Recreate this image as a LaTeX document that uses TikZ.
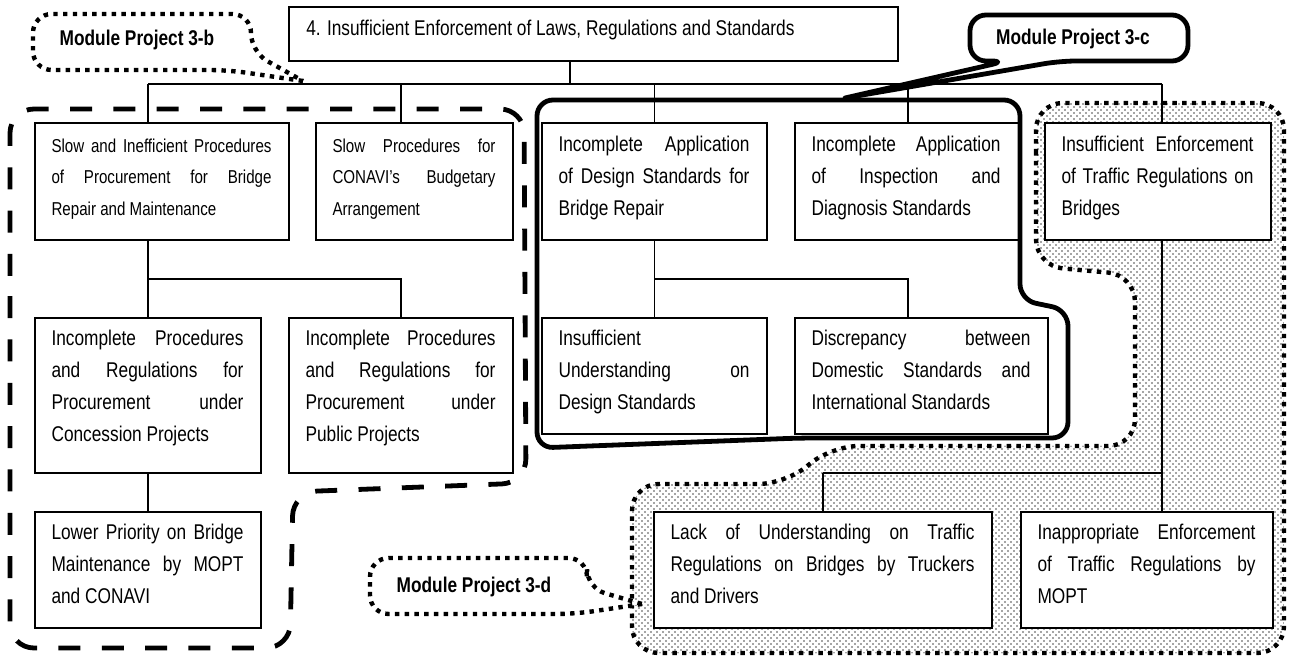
\documentclass[tikz,border=0pt]{standalone}
\usepackage{fontspec}
\setmainfont{Liberation Sans}[FakeStretch=0.81]
\usetikzlibrary{patterns}
% fine stipple used for the shaded module area
\pgfdeclarepatternformonly{stipple}{\pgfqpoint{-1pt}{-1pt}}{\pgfqpoint{3.5pt}{3.5pt}}{\pgfqpoint{4.5pt}{4.5pt}}{%
  \pgfpathcircle{\pgfqpoint{0pt}{0pt}}{0.65pt}%
  \pgfpathcircle{\pgfqpoint{2.25pt}{2.25pt}}{0.65pt}%
  \pgfusepath{fill}}
\hbadness=10000

\tikzset{
  box/.style={draw=black, line width=1.1pt, fill=white, inner sep=0pt},
  pbox/.style args={#1/#2}{minimum width=#1*0.75pt, minimum height=#2*0.75pt},
  wire/.style={draw=black, line width=1pt},
  txt/.style={anchor=north west, inner sep=0pt, align=justify,
    font=\fontsize{16pt}{24pt}\selectfont},
  smalltxt/.style={font=\fontsize{14pt}{23.7pt}\selectfont},
  head/.style={anchor=base west, inner sep=0pt, font=\fontsize{16pt}{19pt}\selectfont},
  lbl/.style={anchor=base, inner sep=0pt, font=\bfseries\fontsize{16pt}{19pt}\selectfont},
  dotline/.style={line width=3.3pt, dash pattern=on 3.3pt off 4pt, line cap=butt},
  dashline/.style={line width=3.6pt, dash pattern=on 16.5pt off 16pt, line cap=butt},
  solidline/.style={line width=3.6pt, line join=round},
}
% strut fixing the height of the first line of each box text
\newcommand{\fl}{\rule{0pt}{12.5pt}}

\begin{document}
\begin{tikzpicture}[x=0.75pt,y=-0.75pt]
\useasboundingbox (0,0) rectangle (1290,659);
\fill[white] (0,0) rectangle (1290,659);

% shaded area of Module Project 3-d
\draw[dotline, pattern=stipple, pattern color=black!70, rounded corners=20pt]
  (1036,180) -- (1036,103) -- (1284,103) -- (1284,653) -- (632,653) -- (632,484)
  -- (785,484) -- (832,446) -- (1135,446) -- (1135,275) -- (1036,266) -- cycle;

% boxes
\node[box, pbox=609/54]  (T)  at (593.5,34) {};
\node[box, pbox=254/117] (b1) at (162,181.5) {};
\node[box, pbox=197/117] (b2) at (414.5,181.5) {};
\node[box, pbox=225/117] (b3) at (654.5,181.5) {};
\node[box, pbox=224/117] (b4) at (907,181.5) {};
\node[box, pbox=226/117] (b5) at (1158,181.5) {};
\node[box, pbox=226/155] (c1) at (148,395.5) {};
\node[box, pbox=224/155] (c2) at (401,395.5) {};
\node[box, pbox=225/116] (c3) at (654.5,376) {};
\node[box, pbox=253/116] (c4) at (921.5,376) {};
\node[box, pbox=226/116] (d1) at (148,570) {};
\node[box, pbox=338/116] (d2) at (823,570) {};
\node[box, pbox=252/116] (d3) at (1147,570) {};

% junction points of the tree
\coordinate (j0) at (570,84);
\coordinate (j1) at (148,84);
\coordinate (j2) at (401,84);
\coordinate (j3) at (654.5,84);
\coordinate (j4) at (908,84);
\coordinate (j5) at (1162,84);
\coordinate (k1) at (148,279);
\coordinate (k2) at (823,473);

% connectors
\draw[wire] (T.south -| j0) -- (j0);
\draw[wire] (j1) -- (j5);
\foreach \j/\b in {j1/b1, j2/b2, j3/b3, j4/b4, j5/b5}
  \draw[wire] (\j) -- (\j |- \b.north);
\draw[wire] (c1.north |- b1.south) -- (c1.north);
\draw[wire] (c1.north |- k1) -- (c2.north |- k1) -- (c2.north);
\draw[wire] (b3.south) -- (c3.north);
\draw[wire] (b3.south |- k1) -- (j4 |- k1) -- (j4 |- c4.north);
\draw[wire] (c1.south) -- (d1.north);
\draw[wire] (j5 |- b5.south) -- (j5 |- d3.north);
\draw[wire] (k2) -- (j5 |- k2);
\draw[wire] (k2) -- (d2.north);

% texts
\node[head] (Tt) at (306,36) {4. Insufficient Enforcement of Laws, Regulations and Standards};
\node[txt, smalltxt, text width=165pt] (b1t) at ([shift={(17,13)}]b1.north west)
  {\fl Slow and Inefficient Procedures\linebreak of Procurement for Bridge\linebreak Repair and Maintenance};
\node[txt, smalltxt, text width=122.25pt] (b2t) at ([shift={(17,13)}]b2.north west)
  {\fl Slow Procedures for\linebreak CONAVI’s Budgetary\linebreak Arrangement};
\node[txt, text width=143.25pt] (b3t) at ([shift={(17,12)}]b3.north west)
  {\fl Incomplete Application\linebreak of Design Standards for\linebreak Bridge Repair};
\node[txt, text width=141.75pt] (b4t) at ([shift={(17,12)}]b4.north west)
  {\fl Incomplete Application\linebreak of Inspection and\linebreak Diagnosis Standards};
\node[txt, text width=144pt] (b5t) at ([shift={(17,12)}]b5.north west)
  {\fl Insufficient Enforcement\linebreak of Traffic Regulations on\linebreak Bridges};
\node[txt, text width=144pt] (c1t) at ([shift={(17,11)}]c1.north west)
  {\fl Incomplete Procedures\linebreak and Regulations for\linebreak Procurement under\linebreak Concession Projects};
\node[txt, text width=142.5pt] (c2t) at ([shift={(17,11)}]c2.north west)
  {\fl Incomplete Procedures\linebreak and Regulations for\linebreak Procurement under\linebreak Public Projects};
\node[txt, text width=143.25pt] (c3t) at ([shift={(17,11)}]c3.north west)
  {\fl Insufficient\linebreak Understanding on\linebreak Design Standards};
\node[txt, text width=164.25pt] (c4t) at ([shift={(17,11)}]c4.north west)
  {\fl Discrepancy between\linebreak Domestic Standards and\linebreak International Standards};
\node[txt, text width=144pt] (d1t) at ([shift={(17,11)}]d1.north west)
  {\fl Lower Priority on Bridge\linebreak Maintenance by MOPT\linebreak and CONAVI};
\node[txt, text width=228pt] (d2t) at ([shift={(17,11)}]d2.north west)
  {\fl Lack of Understanding on Traffic\linebreak Regulations on Bridges by Truckers\linebreak and Drivers};
\node[txt, text width=163.5pt] (d3t) at ([shift={(17,11)}]d3.north west)
  {\fl Inappropriate Enforcement\linebreak of Traffic Regulations by\linebreak MOPT};

% Module Project 3-b outline
\draw[dashline, rounded corners=18pt]
  (10,300) -- (10,109) -- (524,109) -- (526,483) -- (293,492) -- (290,648) -- (10,648) -- cycle;

% Module Project 3-c outline
\draw[solidline, rounded corners=12pt]
  (537,250) -- (537,100) -- (1020,100) -- (1020,300) -- (1068,310) -- (1068,438)
  -- (800,438) -- (537,448) -- cycle;

% callouts
\draw[dotline, fill=white] (303,81) [rounded corners=14pt] -- (228,70) -- (33,70) -- (33,14)
  -- (251,14) -- (251,52) [sharp corners] -- cycle;
\node[lbl] (m3b) at (137,46) {Module Project 3-b};

\draw[solidline, fill=white] (845,98) [rounded corners=12pt] -- (1060,61) -- (1188,61) -- (1188,15)
  -- (970,15) -- (970,61) -- (1007,61) [sharp corners] -- cycle;
\node[lbl] (m3c) at (1073,45) {Module Project 3-c};

\draw[dotline, fill=white] (642,604) [rounded corners=14pt] -- (575,614) -- (370,614) -- (370,558)
  -- (587,558) -- (587,588) [sharp corners] -- cycle;
\node[lbl] (m3d) at (474,592) {Module Project 3-d};
\end{tikzpicture}
\end{document}
